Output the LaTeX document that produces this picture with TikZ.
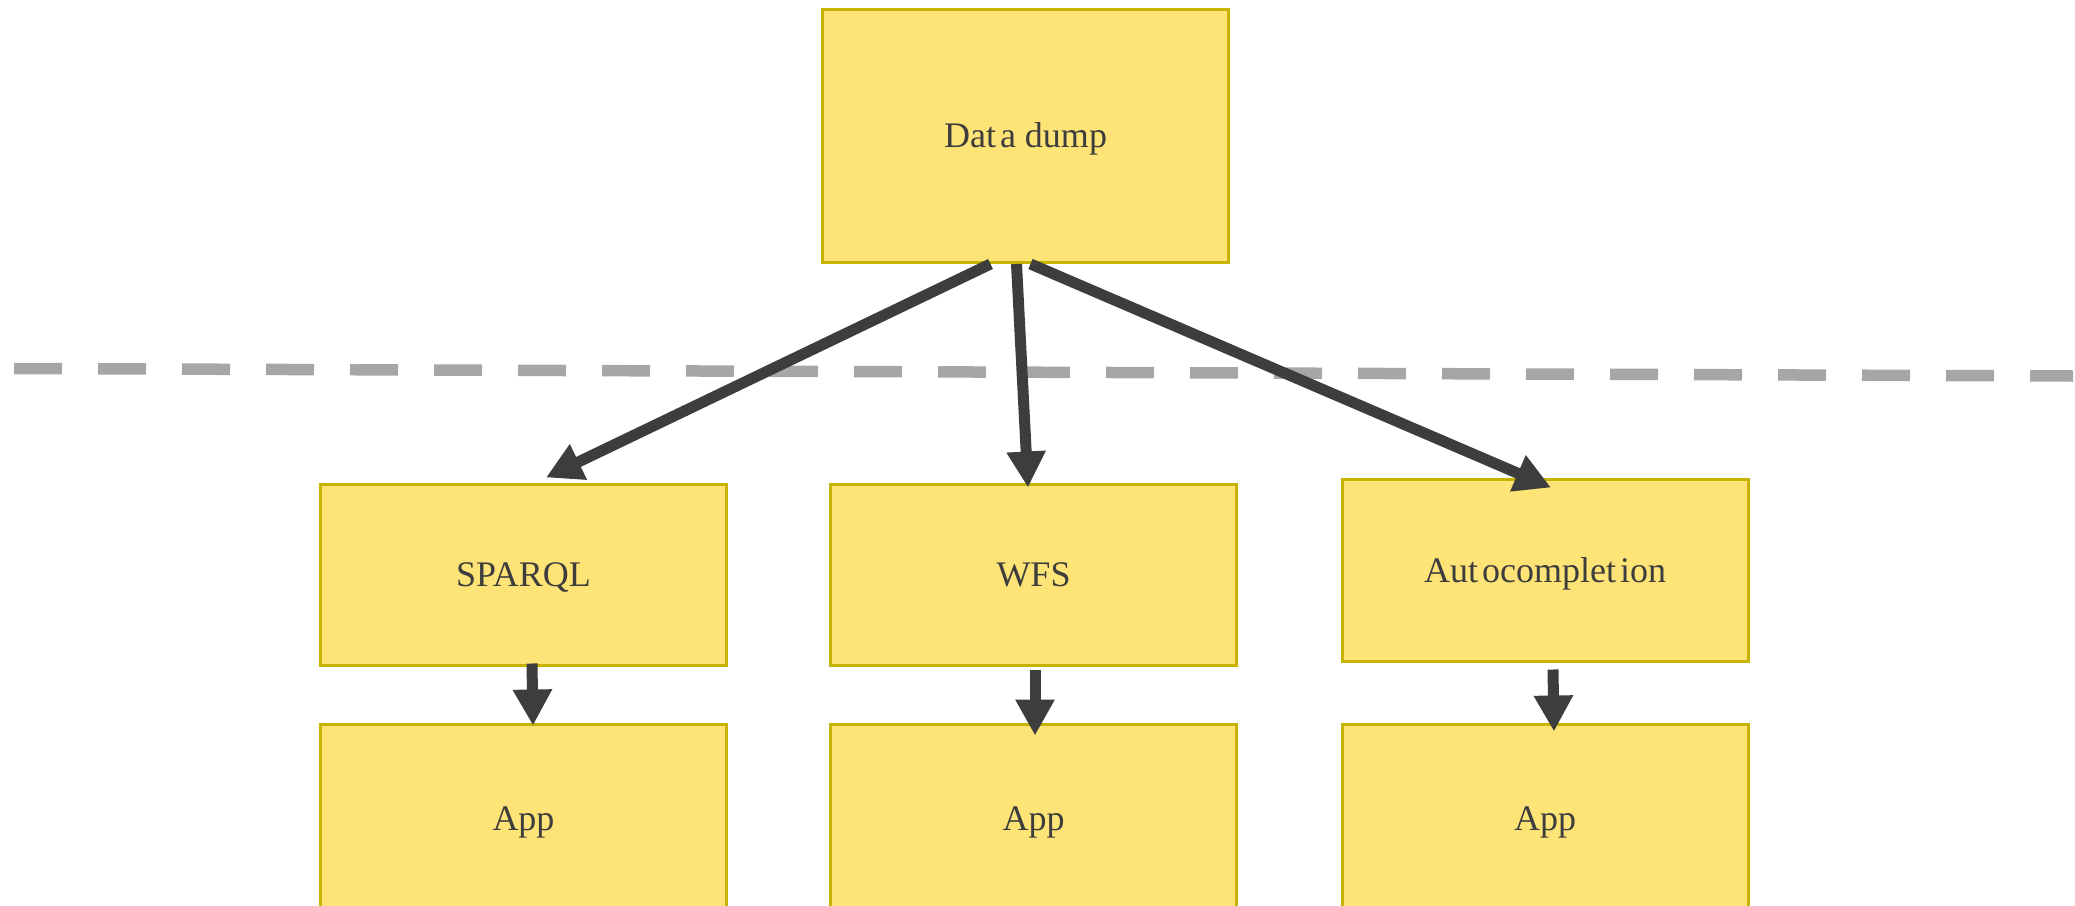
\documentclass[tikz,border=0pt]{standalone}
\usepackage{fontspec}
\setmainfont{Liberation Serif}
\usetikzlibrary{arrows.meta,calc}
\definecolor{boxfill}{RGB}{254,228,118}
\definecolor{boxline}{RGB}{199,180,0}
\definecolor{ink}{RGB}{61,61,61}
\definecolor{divider}{RGB}{166,166,166}
\newcommand{\tgap}{\kern4pt}
\tikzset{
  stage/.style={draw=boxline, fill=boxfill, line width=3pt, inner sep=0pt,
    text=ink, font=\fontsize{36}{40}\selectfont, minimum width=406pt,
    text height=23.8pt, text depth=0pt},
  flow/.style={draw=ink, line width=11pt, -{Triangle[length=36pt,width=37pt]}},
  divline/.style={draw=divider, line width=11.5pt, dash pattern=on 48pt off 36pt}
}
\begin{document}
\begin{tikzpicture}[x=1pt,y=-1pt]
\clip (0,0) rectangle (2075,905);
\fill[white] (0,0) rectangle (2075,905);

% source and services
\node[stage, minimum height=253pt] (dump) at (1025.5,136) {Dat\tgap a dump};
\node[stage, minimum height=181pt] (sparql) at (523.5,575) {SPARQL};
\node[stage, minimum height=181pt] (wfs) at (1033.5,575) {WFS};
\node[stage, minimum height=182pt] (auto) at (1545,570.5) {Aut\tgap ocomplet\tgap ion};

% client applications
\node[stage, minimum height=189pt] (app1) at (523.5,819) {App};
\node[stage, minimum height=189pt] (app2) at (1033.5,819) {App};
\node[stage, minimum height=189pt] (app3) at (1545,819) {App};

% boundary line
\coordinate (divL) at (14,368.5);
\coordinate (divR) at (2073,376);
\draw[divline] (divL) -- (divR);

% data flow
\draw[flow] ($(dump.south)+(-35,0)$) -- ($(sparql.north)+(22.5,-5.5)$);
\draw[flow] ($(dump.south)+(-9,0)$) -- ($(wfs.north)+(-5.5,4.5)$);
\draw[flow] ($(dump.south)+(5,0)$) -- ($(auto.north)+(6,9.5)$);

\draw[flow] ($(sparql.south)+(8.5,-3.5)$) -- ($(app1.north)+(9.5,2.5)$);
\draw[flow] ($(wfs.south)+(1.5,2.5)$) -- ($(app2.north)+(1.5,12.5)$);
\draw[flow] ($(auto.south)+(8,6.5)$) -- ($(app3.north)+(9,8.5)$);
\end{tikzpicture}
\end{document}
